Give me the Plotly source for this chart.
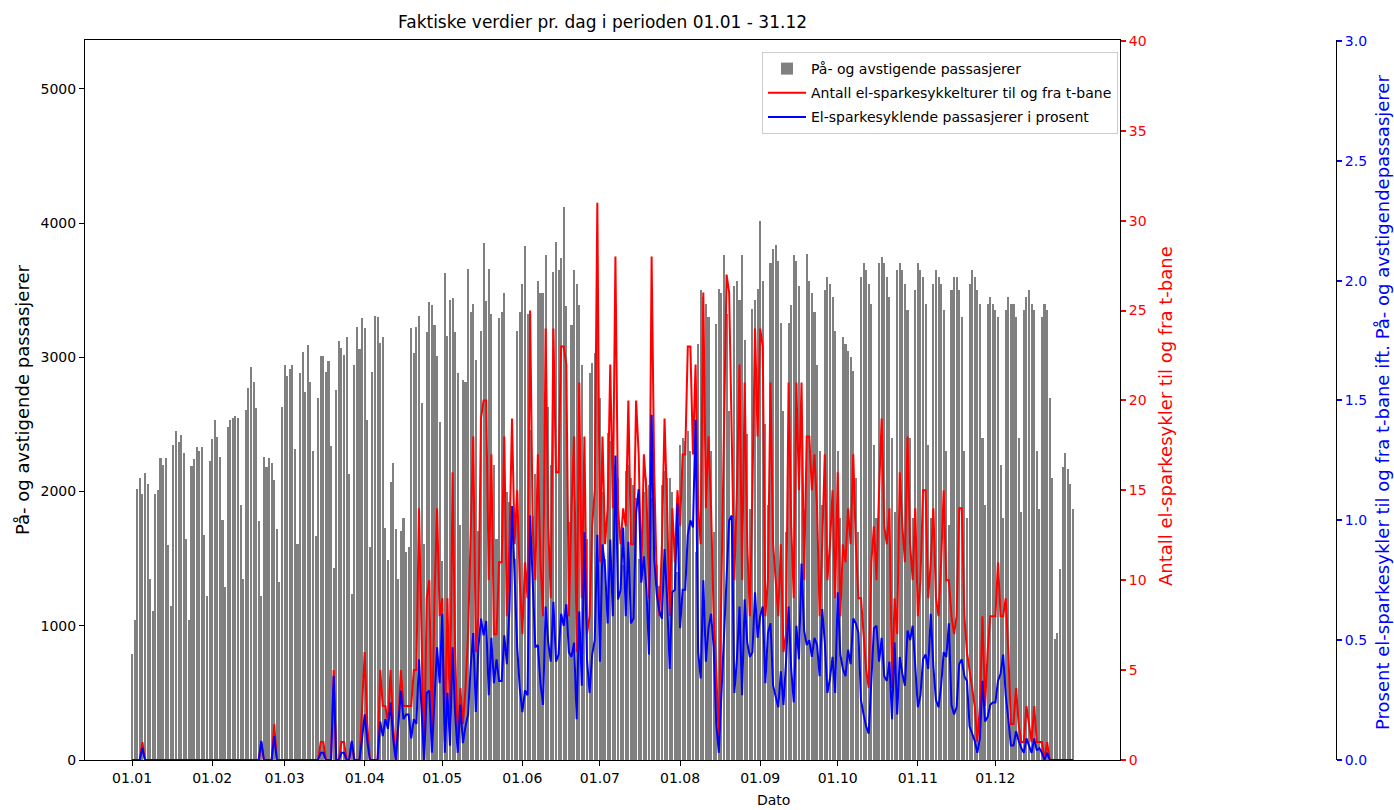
import pandas as pd
import plotly.graph_objects as go

# ---------------- data (one value per day, 2022) ----------------
dates = pd.date_range("2022-01-01", "2022-12-31", freq="D")

passasjerer = [
    790, 1040,
    2020, 2100, 1980, 2140, 2060, 1350, 1110,
    1980, 2010, 2250, 2200, 2250, 1600, 1150,
    2350, 2450, 2370, 2420, 2290, 1650, 1040,
    2190, 2240, 2330, 2300, 2330, 1680, 1220,
    2230, 2390, 2530, 2410, 2260, 1790, 1290,
    2480, 2530, 2550, 2560, 2550, 1900, 1350,
    2610, 2770, 2930, 2820, 2620, 1780, 1220,
    2260, 2180, 2250, 2210, 2090, 1720, 1330,
    2630, 2940, 2860, 2910, 2940, 2320, 1610,
    2880, 3040, 2740, 3090, 2820, 2300, 1670,
    2700, 3010, 3010, 2890, 2970, 2340, 1430,
    2760, 3120, 3070, 3020, 3150, 2130, 1240,
    2940, 3230, 3060, 3290, 3220, 2530, 1590,
    2890, 3310, 3300, 3110, 3150, 1730, 1490,
    2070, 2210, 1720, 1350, 1710, 1800, 1550,
    1590, 3220, 3030, 3230, 3310, 2660, 1610,
    3190, 3410, 3390, 3240, 3010, 2520, 1480,
    3630, 3160, 3430, 3440, 3190, 2880, 1750,
    2830, 2820, 3660, 3340, 3400, 2980, 1710,
    3200, 3850, 3420, 3660, 3320, 2200, 1650,
    3290, 3340, 3480, 2000, 1920, 1800, 1500,
    3200, 3340, 3550, 3830, 3320, 2460, 1820,
    2130, 3570, 3480, 3480, 3760, 2630, 2200,
    3640, 3860, 3650, 3740, 4120, 3380, 1770,
    3240, 3650, 3550, 3390, 2940, 1900, 1650,
    2880, 2960, 3030, 3300, 2700, 2000, 1500,
    2440, 2380, 2350, 2200, 2100, 1700, 1450,
    2150, 2200, 2100, 2050, 1950, 1500, 1350,
    2000, 2100, 2050, 1950, 1900, 1450, 1300,
    2050, 2150, 2100, 2100, 2000, 1550, 1400,
    2350, 2400, 2380, 2450, 2300, 1750, 1550,
    3100, 3500, 3450, 3400, 3300, 2300, 1700,
    3250, 3510, 3480, 3760, 3320, 2600, 1770,
    3530, 3570, 3430, 3760, 3130, 2430, 1870,
    3360, 3430, 3510, 4020, 3570, 2500, 1900,
    3700, 3810, 3840, 3720, 3260, 2600, 1700,
    3260, 3390, 3760, 3720, 3530, 2560, 1860,
    3770, 3570, 3480, 3340, 2940, 2300, 1900,
    3500, 3600, 3550, 3450, 3200, 2300, 1800,
    3150, 3100, 3050, 3000, 2900, 2100, 1700,
    3600, 3700, 3650, 3550, 3400, 2350, 1800,
    3700, 3750, 3700, 3600, 3450, 2400, 1850,
    3650, 3700, 3650, 3550, 3350, 2400, 1800,
    3500, 3700, 3650, 3600, 3400, 2350, 1800,
    3550, 3650, 3600, 3550, 3350, 2300, 1750,
    3500, 3600, 3600, 3500, 3300, 2300, 1800,
    3550, 3650, 3600, 3500, 3400, 2400, 1900,
    3400, 3450, 3400, 3350, 3300, 2200, 1800,
    3350, 3450, 3400, 3400, 3300, 2400, 1850,
    3350, 3450, 3500, 3400, 3350, 2300, 1870,
    3300, 3400, 3350, 2700, 2100, 900, 950,
    1420, 2180, 2290, 2170, 2060, 1870,
]

turer = [
    0, 0,
    0, 0, 1, 0, 0, 0, 0,
    0, 0, 0, 0, 0, 0, 0,
    0, 0, 0, 0, 0, 0, 0,
    0, 0, 0, 0, 0, 0, 0,
    0, 0, 0, 0, 0, 0, 0,
    0, 0, 0, 0, 0, 0, 0,
    0, 0, 0, 0, 0, 0, 1,
    0, 0, 0, 0, 2, 0, 0,
    0, 0, 0, 0, 0, 0, 0,
    0, 0, 0, 0, 0, 0, 0,
    0, 1, 1, 0, 0, 0, 5,
    0, 0, 1, 1, 0, 0, 1,
    0, 0, 0, 3, 6, 2, 0,
    0, 0, 0, 5, 3, 3, 2,
    5, 2, 0, 2, 5, 3, 3,
    3, 3, 5, 5, 14, 6, 0,
    9, 10, 1, 9, 14, 8, 9,
    1, 9, 2, 16, 6, 1, 4,
    2, 4, 7, 13, 18, 6, 8,
    19, 20, 20, 10, 17, 7, 7,
    11, 11, 18, 8, 12, 19, 12,
    15, 10, 7, 11, 9, 25, 13,
    10, 17, 11, 8, 24, 13, 9,
    24, 16, 16, 23, 23, 22, 8,
    14, 18, 6, 21, 9, 18, 7,
    8, 13, 15, 31, 11, 18, 12,
    14, 22, 14, 28, 14, 12, 14,
    13, 20, 12, 12, 20, 17, 10,
    17, 15, 9, 28, 16, 10, 8,
    12, 19, 14, 8, 14, 11, 15,
    13, 17, 17, 23, 23, 17, 22,
    14, 12, 26, 14, 18, 14, 8,
    5, 1, 10, 18, 27, 26, 18,
    10, 15, 22, 10, 21, 12, 8,
    15, 24, 18, 24, 23, 8, 10,
    21, 12, 10, 8, 12, 6, 7,
    21, 13, 9, 21, 15, 21, 10,
    18, 18, 15, 17, 14, 8, 12,
    17, 10, 12, 15, 9, 16, 8,
    12, 11, 14, 12, 17, 12, 9,
    9, 7, 5, 4, 11, 13, 10,
    15, 19, 13, 12, 14, 4, 9,
    7, 16, 13, 11, 18, 12, 10,
    14, 8, 10, 15, 15, 9, 11,
    14, 9, 8, 11, 15, 10, 10,
    8, 7, 8, 14, 14, 8, 6,
    5, 4, 3, 1, 3, 8, 3,
    6, 8, 8, 8, 11, 8, 8,
    9, 6, 2, 2, 4, 2, 1,
    1, 3, 2, 1, 3, 1, 1,
    1, 0, 1, 0, 0, 0, 0,
    0, 0, 0, 0, 0, 0,
]

prosent = [
    0, 0,
    0, 0, 0.05, 0, 0, 0, 0,
    0, 0, 0, 0, 0, 0, 0,
    0, 0, 0, 0, 0, 0, 0,
    0, 0, 0, 0, 0, 0, 0,
    0, 0, 0, 0, 0, 0, 0,
    0, 0, 0, 0, 0, 0, 0,
    0, 0, 0, 0, 0, 0, 0.08,
    0, 0, 0, 0, 0.10, 0, 0,
    0, 0, 0, 0, 0, 0, 0,
    0, 0, 0, 0, 0, 0, 0,
    0, 0.03, 0.03, 0, 0, 0, 0.35,
    0, 0, 0.03, 0.03, 0, 0, 0.08,
    0, 0, 0, 0.09, 0.19, 0.08, 0,
    0, 0, 0, 0.16, 0.10, 0.17, 0.13,
    0.24, 0.09, 0, 0.15, 0.29, 0.17, 0.19,
    0.19, 0.09, 0.17, 0.15, 0.42, 0.23, 0,
    0.28, 0.29, 0.03, 0.28, 0.47, 0.32, 0.61,
    0.03, 0.28, 0.06, 0.47, 0.19, 0.03, 0.23,
    0.07, 0.14, 0.19, 0.39, 0.53, 0.20, 0.47,
    0.59, 0.52, 0.58, 0.27, 0.51, 0.32, 0.42,
    0.33, 0.33, 0.52, 0.40, 0.63, 1.06, 0.80,
    0.47, 0.30, 0.20, 0.29, 0.27, 1.02, 0.71,
    0.47, 0.48, 0.32, 0.23, 0.64, 0.49, 0.41,
    0.66, 0.41, 0.44, 0.61, 0.56, 0.65, 0.45,
    0.43, 0.49, 0.17, 0.62, 0.31, 0.95, 0.42,
    0.28, 0.44, 0.50, 0.94, 0.41, 0.90, 0.80,
    0.57, 0.92, 0.60, 1.27, 0.67, 0.71, 0.97,
    0.60, 0.91, 0.57, 0.59, 1.03, 1.13, 0.74,
    0.85, 0.71, 0.44, 1.44, 0.84, 0.69, 0.62,
    0.59, 0.88, 0.67, 0.38, 0.70, 0.71, 1.07,
    0.55, 0.71, 0.71, 0.94, 1.00, 0.97, 1.42,
    0.45, 0.34, 0.75, 0.41, 0.55, 0.61, 0.47,
    0.15, 0.03, 0.29, 0.48, 0.81, 1.00, 1.02,
    0.28, 0.42, 0.64, 0.27, 0.67, 0.49, 0.43,
    0.45, 0.70, 0.51, 0.60, 0.64, 0.32, 0.53,
    0.57, 0.31, 0.26, 0.22, 0.37, 0.23, 0.41,
    0.64, 0.38, 0.24, 0.56, 0.42, 0.82, 0.54,
    0.48, 0.50, 0.43, 0.51, 0.48, 0.35, 0.63,
    0.49, 0.28, 0.34, 0.43, 0.28, 0.70, 0.44,
    0.38, 0.35, 0.46, 0.40, 0.59, 0.57, 0.53,
    0.25, 0.19, 0.14, 0.11, 0.32, 0.55, 0.56,
    0.41, 0.51, 0.35, 0.33, 0.41, 0.17, 0.49,
    0.19, 0.43, 0.36, 0.31, 0.54, 0.50, 0.56,
    0.40, 0.22, 0.27, 0.42, 0.44, 0.38, 0.61,
    0.39, 0.25, 0.22, 0.31, 0.45, 0.43, 0.57,
    0.23, 0.19, 0.22, 0.40, 0.42, 0.35, 0.33,
    0.14, 0.11, 0.08, 0.03, 0.09, 0.33, 0.16,
    0.18, 0.23, 0.24, 0.24, 0.33, 0.36, 0.44,
    0.27, 0.17, 0.06, 0.06, 0.12, 0.08, 0.05,
    0.03, 0.09, 0.06, 0.03, 0.09, 0.04, 0.05,
    0.03, 0, 0.03, 0, 0, 0, 0,
    0, 0, 0, 0, 0, 0,
]

month_ticks = pd.date_range("2022-01-01", periods=12, freq="MS")
month_labels = [d.strftime("%d.%m") for d in month_ticks]

title_text = "Faktiske verdier pr. dag i perioden 01.01 - 31.12"
name_bar = "På- og avstigende passasjerer"
name_red = "Antall el-sparkesykkelturer til og fra t-bane"
name_blue = "El-sparkesyklende passasjerer i prosent"
ytitle_left = "På- og avstigende passasjerer"
ytitle_red = "Antall el-sparkesykler til og fra t-bane"
ytitle_blue = "Prosent el-sparkesykler til og fra t-bane ift. På- og avstigendepassasjerer"

# ---------------- figure ----------------
FONT = "DejaVu Sans"
DAY_MS = 86400000
W, H = 1394, 810
L, R, T, B = 85, 58, 40, 50
plot_w = W - L - R
plot_h = H - T - B
x_dom = (1120 - L) / plot_w

fig = go.Figure()
fig.add_trace(go.Bar(
    x=dates, y=passasjerer, width=0.8 * DAY_MS, name=name_bar,
    legendgroup="a",
    marker=dict(color="#808080", line=dict(width=0)), yaxis="y"))
fig.add_trace(go.Scatter(
    x=dates, y=turer, mode="lines", name=name_red, legendgroup="b",
    line=dict(color="#ff0000", width=2), yaxis="y2"))
fig.add_trace(go.Scatter(
    x=dates, y=prosent, mode="lines", name=name_blue, legendgroup="c",
    line=dict(color="#0000ff", width=2), yaxis="y3"))

pad = pd.Timedelta(days=364 * 0.05)
x_range = [dates[0] - pad, dates[-1] + pad]

tickfont = dict(family=FONT, size=14, color="black")
fig.update_layout(
    width=W, height=H,
    margin=dict(l=L, r=R, t=T, b=B, pad=0),
    paper_bgcolor="white", plot_bgcolor="white",
    font=dict(family=FONT, color="black"),
    showlegend=True,
    bargap=0,
    xaxis=dict(
        domain=[0, x_dom], range=x_range, type="date",
        tickvals=list(month_ticks), ticktext=month_labels,
        ticks="outside", ticklen=5, tickwidth=1, tickcolor="black",
        tickfont=tickfont, showgrid=False, zeroline=False,
        showline=True, linecolor="black", linewidth=1, mirror=True,
    ),
    yaxis=dict(
        range=[0, 5365], tickvals=[0, 1000, 2000, 3000, 4000, 5000],
        ticks="outside", ticklen=5, tickwidth=1, tickcolor="black",
        tickfont=tickfont, showgrid=False, zeroline=False,
        showline=True, linecolor="black", linewidth=1, mirror=True,
    ),
    yaxis2=dict(
        overlaying="y", side="right", anchor="x",
        range=[0, 40.05], tickvals=list(range(0, 41, 5)),
        ticks="outside", ticklen=5, tickwidth=1.5, tickcolor="#ff0000",
        tickfont=dict(family=FONT, size=14, color="#ff0000"),
        showgrid=False, zeroline=False, showline=False,
    ),
    yaxis3=dict(
        overlaying="y", side="right", anchor="free", position=1.0,
        range=[0, 3.004], tickvals=[0, 0.5, 1.0, 1.5, 2.0, 2.5, 3.0],
        tickformat=".1f",
        ticks="outside", ticklen=5, tickwidth=1.5, tickcolor="#0000ff",
        tickfont=dict(family=FONT, size=14, color="#0000ff"),
        showgrid=False, zeroline=False,
        showline=True, linecolor="black", linewidth=1,
    ),
    legend=dict(
        x=(1118 - L) / plot_w, xanchor="right",
        y=1 - (52 - T) / plot_h, yanchor="top",
        bgcolor="rgba(255,255,255,0.85)", bordercolor="#cccccc", borderwidth=1,
        font=dict(family=FONT, size=14, color="black"),
        traceorder="grouped", tracegroupgap=3, itemwidth=38,
    ),
)

def px(xp):
    return (xp - L) / plot_w
def py(yp):
    return (H - B - yp) / plot_h

fig.add_annotation(text=title_text, xref="paper", yref="paper",
                   x=px(602), y=py(22), showarrow=False,
                   font=dict(family=FONT, size=17, color="black"),
                   xanchor="center", yanchor="middle")
fig.add_annotation(text="Dato", xref="paper", yref="paper",
                   x=px(773), y=py(800), showarrow=False,
                   font=dict(family=FONT, size=14, color="black"),
                   xanchor="center", yanchor="middle")
fig.add_annotation(text=ytitle_left, xref="paper", yref="paper",
                   x=px(22), y=py(400), showarrow=False, textangle=-90,
                   font=dict(family=FONT, size=18, color="black"),
                   xanchor="center", yanchor="middle")
fig.add_annotation(text=ytitle_red, xref="paper", yref="paper",
                   x=px(1166), y=py(416), showarrow=False, textangle=-90,
                   font=dict(family=FONT, size=18, color="#ff0000"),
                   xanchor="center", yanchor="middle")
fig.add_annotation(text=ytitle_blue, xref="paper", yref="paper",
                   x=px(1382), y=py(403), showarrow=False, textangle=-90,
                   font=dict(family=FONT, size=18, color="#0000ff"),
                   xanchor="center", yanchor="middle")

fig.write_html("out.html",
               config={"displayModeBar": False},
               post_script="document.body.style.margin='0';document.body.style.overflow='hidden';")
